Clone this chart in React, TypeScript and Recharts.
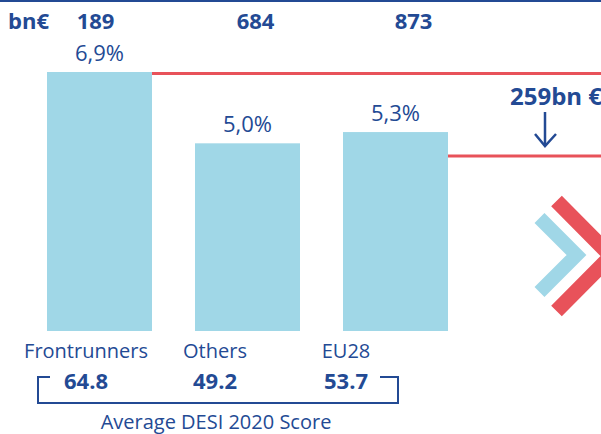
import { BarChart, Bar, XAxis, YAxis, LabelList } from "recharts";

const categories = ["Frontrunners", "Others", "EU28"];
const growth = [6.9, 5.0, 5.3];
const investment = [189, 684, 873];
const desiScores = ["64.8", "49.2", "53.7"];
const redLineLevel = [6.9, null, 4.7];

const NAVY = "#234a94";
const BAR = "#a0d7e7";
const RED = "#e8525a";
const FONT = "'Open Sans', sans-serif";

// labels in the source are not centred on the bars
const topShift = [-4, 8, 18];
const bottomShift = [-13, -32, -49];

const data = categories.map((name, i) => ({
  name,
  growth: growth[i],
  bn: investment[i],
  score: desiScores[i],
  line: redLineLevel[i],
}));

const BarWithLine = (props: any) => {
  const { x, y, width, height, payload } = props;
  const level = payload.line;
  let lineY: number | null = null;
  if (level != null) lineY = y + height - (height * level) / payload.growth;
  return (
    <g>
      <rect x={x} y={y} width={width} height={height} fill={BAR} />
      {lineY != null && (
        <line x1={x + width} x2={601} y1={lineY + 1.5} y2={lineY + 1.5} stroke={RED} strokeWidth={3} />
      )}
    </g>
  );
};

const CategoryTick = (props: any) => {
  const { x, y, payload, index } = props;
  const cx = x + bottomShift[index];
  return (
    <g>
      <text x={cx} y={y} dy={19} textAnchor="middle" fill={NAVY} fontSize={20} fontFamily={FONT}>
        {payload.value}
      </text>
      <text
        x={cx}
        y={y}
        dy={50}
        textAnchor="middle"
        fill={NAVY}
        fontSize={22}
        fontWeight="bold"
        fontFamily={FONT}
      >
        {desiScores[index]}
      </text>
    </g>
  );
};

const TopValue = (props: any) => {
  const { x, width, value, index } = props;
  return (
    <text
      x={x + width / 2 + topShift[index]}
      y={29}
      textAnchor="middle"
      fill={NAVY}
      fontSize={22}
      fontWeight="bold"
      fontFamily={FONT}
    >
      {value}
    </text>
  );
};

export default function App() {
  return (
    <div style={{ position: "absolute", left: 0, top: 0, width: 601, height: 434, background: "#fff" }}>
      <BarChart
        width={601}
        height={434}
        data={data}
        margin={{ top: 72, right: 132, bottom: 43, left: 25 }}
        barCategoryGap={21}
      >
        <XAxis
          dataKey="name"
          axisLine={false}
          tickLine={false}
          height={60}
          interval={0}
          tick={<CategoryTick />}
        />
        <YAxis hide domain={[0, 6.9]} />
        <Bar dataKey="growth" barSize={105} shape={<BarWithLine />} isAnimationActive={false}>
          <LabelList
            dataKey="growth"
            position="top"
            offset={11}
            formatter={(v: any) => Number(v).toFixed(1).replace(".", ",") + "%"}
            fill={NAVY}
            fontSize={22}
            fontFamily={FONT}
          />
          <LabelList dataKey="bn" content={<TopValue />} />
        </Bar>
      </BarChart>
      <svg
        width={601}
        height={434}
        style={{ position: "absolute", left: 0, top: 0, pointerEvents: "none" }}
      >
        <line x1={0} x2={601} y1={1} y2={1} stroke={NAVY} strokeWidth={2} />
        <text x={8} y={29} fill={NAVY} fontSize={22} fontWeight="bold" fontFamily={FONT}>
          bn€
        </text>
        <text x={510} y={105} fill={NAVY} fontSize={24} fontWeight="bold" fontFamily={FONT}>
          259bn €
        </text>
        <line x1={545} x2={545} y1={112} y2={146} stroke={NAVY} strokeWidth={2.5} />
        <polyline points="535,134 545,146 556,134" fill="none" stroke={NAVY} strokeWidth={2.5} />
        <polyline points="556.5,201 611,256 556.5,311" fill="none" stroke={RED} strokeWidth={15} />
        <polyline points="539.5,218 576.5,255 539.5,292" fill="none" stroke={BAR} strokeWidth={14} />
        <polyline
          points="50,377 38,377 38,403 398,403 398,377 380,377"
          fill="none"
          stroke={NAVY}
          strokeWidth={2}
        />
        <text x={216} y={429} textAnchor="middle" fill={NAVY} fontSize={20} fontFamily={FONT}>
          Average DESI 2020 Score
        </text>
      </svg>
    </div>
  );
}
